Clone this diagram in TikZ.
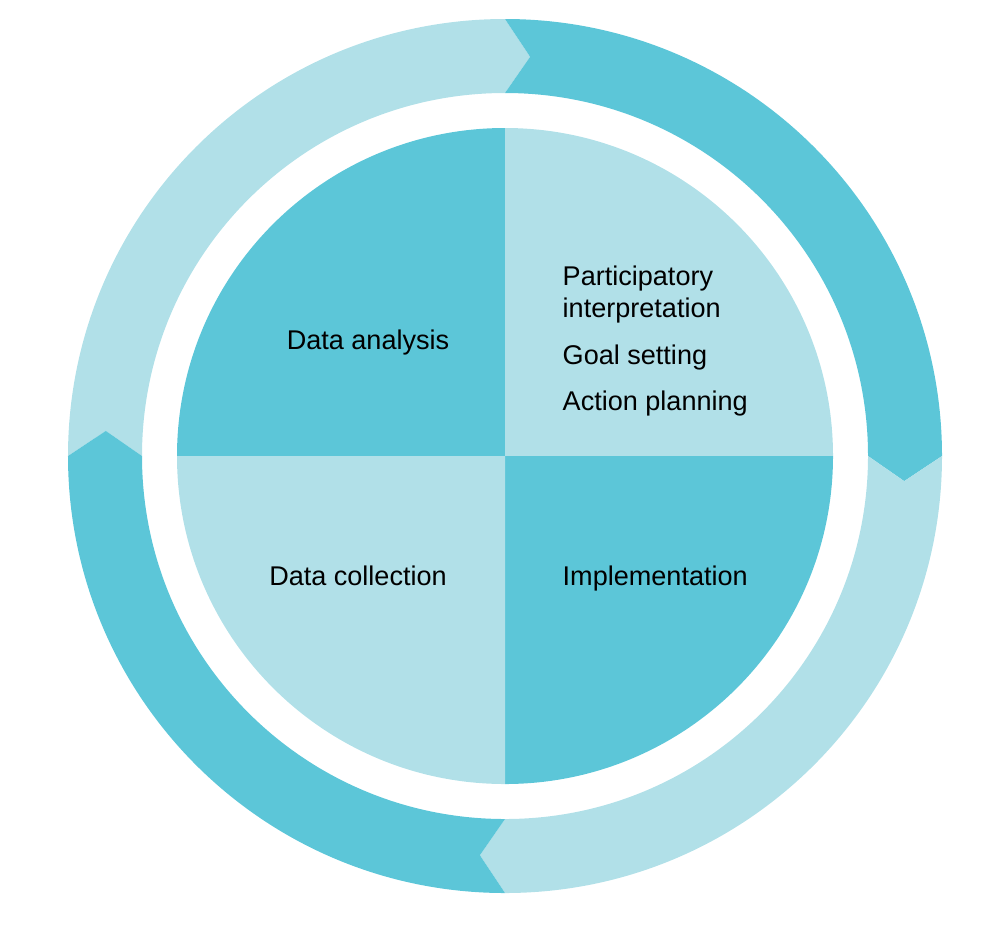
\documentclass[tikz,border=0pt]{standalone}
\usepackage{fontspec}
\setmainfont{Liberation Sans}
\usepackage{xcolor}
\usepackage{tikz}
\usetikzlibrary{calc}
\definecolor{cycledark} {RGB}{92,198,216}
\definecolor{cyclelight}{RGB}{177,224,232}

\begin{document}
\begin{tikzpicture}[
      every node/.style={align=left, text=black},
      steplabel/.style={font=\fontsize{7.7pt}{9.1pt}\selectfont, inner sep=0pt},
    ]
    \useasboundingbox (-5.05,-4.70) rectangle (4.95,4.56);
    \def\ro{4.37}  % outer ring radius
    \def\ri{3.63}  % inner ring radius
    \def\rm{4.00}  % arrow tip radius
    \def\d{3.6}    % arrow tip angle
    \def\rp{3.28}  % pie radius

    % ── OUTER RING (four arrows, clockwise) ─────────────────────
    \foreach \a/\c in {180/cyclelight, 90/cycledark, 0/cyclelight, -90/cycledark}{
      \fill[\c] (\a:\ro) arc[start angle=\a, end angle=\a-90, radius=\ro]
        -- ({\a-90-\d}:\rm) -- ({\a-90}:\ri)
        arc[start angle=\a-90, end angle=\a, radius=\ri]
        -- ({\a-\d}:\rm) -- cycle;
    }

    % ── PIE QUARTERS ────────────────────────────────────────────
    \foreach \a/\c in {90/cycledark, 0/cyclelight, -90/cycledark, 180/cyclelight}{
      \fill[\c] (0,0) -- (\a:\rp) arc[start angle=\a, end angle=\a+90, radius=\rp] -- cycle;
    }

    % ── LABELS ──────────────────────────────────────────────────
    \node[steplabel, anchor=mid] (analysis) at (-1.37, 1.16) {Data analysis};
    \node[steplabel, anchor=mid] (collection) at (-1.47, -1.20) {Data collection};
    \node[steplabel, anchor=mid west] (implement) at (0.57, -1.20) {Implementation};

    \node[steplabel, anchor=mid west] (interpret) at (0.57, 1.48) {Participatory\\interpretation};
    \node[steplabel, anchor=mid west] (goals) at (0.57, 1.01) {Goal setting};
    \node[steplabel, anchor=mid west] (action) at (0.57, 0.55) {Action planning};
\end{tikzpicture}
\end{document}
